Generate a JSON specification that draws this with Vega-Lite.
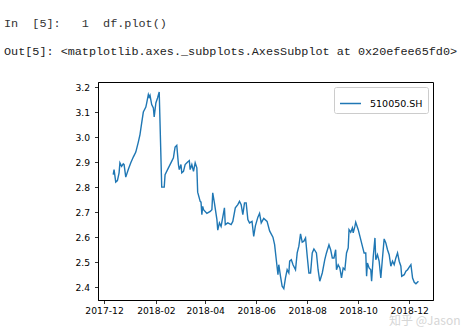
{
  "$schema": "https://vega.github.io/schema/vega-lite/v6.json",
  "autosize": {"type": "none"},
  "width": 335,
  "height": 218,
  "padding": {"left": 98, "top": 82, "right": 42, "bottom": 27},
  "background": "white",
  "title": {
    "text": "In\u00a0\u00a0[5]:\u00a0\u00a0\u00a01\u00a0\u00a0df.plot()",
    "subtitle": "Out[5]:\u00a0<matplotlib.axes._subplots.AxesSubplot at 0x20efee65fd0>",
    "anchor": "start",
    "frame": "group",
    "dx": -94,
    "offset": 24,
    "font": "Liberation Mono",
    "fontSize": 11.8,
    "fontWeight": "normal",
    "color": "#333333",
    "subtitleFont": "Liberation Mono",
    "subtitleFontSize": 11.8,
    "subtitleColor": "#222222",
    "subtitlePadding": 16
  },
  "data": {
    "values": [
      {"date": "2017-12-12", "close": 2.85, "series": "510050.SH"},
      {"date": "2017-12-13", "close": 2.87, "series": "510050.SH"},
      {"date": "2017-12-15", "close": 2.82, "series": "510050.SH"},
      {"date": "2017-12-17", "close": 2.826, "series": "510050.SH"},
      {"date": "2017-12-19", "close": 2.857, "series": "510050.SH"},
      {"date": "2017-12-20", "close": 2.897, "series": "510050.SH"},
      {"date": "2017-12-22", "close": 2.883, "series": "510050.SH"},
      {"date": "2017-12-24", "close": 2.893, "series": "510050.SH"},
      {"date": "2017-12-25", "close": 2.89, "series": "510050.SH"},
      {"date": "2017-12-27", "close": 2.84, "series": "510050.SH"},
      {"date": "2017-12-30", "close": 2.87, "series": "510050.SH"},
      {"date": "2018-01-02", "close": 2.897, "series": "510050.SH"},
      {"date": "2018-01-05", "close": 2.92, "series": "510050.SH"},
      {"date": "2018-01-08", "close": 2.94, "series": "510050.SH"},
      {"date": "2018-01-11", "close": 2.98, "series": "510050.SH"},
      {"date": "2018-01-13", "close": 3.01, "series": "510050.SH"},
      {"date": "2018-01-15", "close": 3.056, "series": "510050.SH"},
      {"date": "2018-01-17", "close": 3.10, "series": "510050.SH"},
      {"date": "2018-01-20", "close": 3.12, "series": "510050.SH"},
      {"date": "2018-01-21", "close": 3.136, "series": "510050.SH"},
      {"date": "2018-01-23", "close": 3.17, "series": "510050.SH"},
      {"date": "2018-01-24", "close": 3.16, "series": "510050.SH"},
      {"date": "2018-01-25", "close": 3.167, "series": "510050.SH"},
      {"date": "2018-01-27", "close": 3.13, "series": "510050.SH"},
      {"date": "2018-01-29", "close": 3.116, "series": "510050.SH"},
      {"date": "2018-01-30", "close": 3.08, "series": "510050.SH"},
      {"date": "2018-02-01", "close": 3.136, "series": "510050.SH"},
      {"date": "2018-02-03", "close": 3.156, "series": "510050.SH"},
      {"date": "2018-02-05", "close": 3.18, "series": "510050.SH"},
      {"date": "2018-02-08", "close": 2.80, "series": "510050.SH"},
      {"date": "2018-02-11", "close": 2.80, "series": "510050.SH"},
      {"date": "2018-02-12", "close": 2.85, "series": "510050.SH"},
      {"date": "2018-02-16", "close": 2.877, "series": "510050.SH"},
      {"date": "2018-02-19", "close": 2.897, "series": "510050.SH"},
      {"date": "2018-02-22", "close": 2.917, "series": "510050.SH"},
      {"date": "2018-02-23", "close": 2.94, "series": "510050.SH"},
      {"date": "2018-02-24", "close": 2.96, "series": "510050.SH"},
      {"date": "2018-02-26", "close": 2.967, "series": "510050.SH"},
      {"date": "2018-02-28", "close": 2.89, "series": "510050.SH"},
      {"date": "2018-03-01", "close": 2.87, "series": "510050.SH"},
      {"date": "2018-03-03", "close": 2.89, "series": "510050.SH"},
      {"date": "2018-03-04", "close": 2.857, "series": "510050.SH"},
      {"date": "2018-03-06", "close": 2.863, "series": "510050.SH"},
      {"date": "2018-03-08", "close": 2.89, "series": "510050.SH"},
      {"date": "2018-03-11", "close": 2.90, "series": "510050.SH"},
      {"date": "2018-03-13", "close": 2.906, "series": "510050.SH"},
      {"date": "2018-03-14", "close": 2.87, "series": "510050.SH"},
      {"date": "2018-03-16", "close": 2.89, "series": "510050.SH"},
      {"date": "2018-03-18", "close": 2.863, "series": "510050.SH"},
      {"date": "2018-03-20", "close": 2.897, "series": "510050.SH"},
      {"date": "2018-03-22", "close": 2.877, "series": "510050.SH"},
      {"date": "2018-03-23", "close": 2.78, "series": "510050.SH"},
      {"date": "2018-03-26", "close": 2.743, "series": "510050.SH"},
      {"date": "2018-03-27", "close": 2.74, "series": "510050.SH"},
      {"date": "2018-03-28", "close": 2.69, "series": "510050.SH"},
      {"date": "2018-03-29", "close": 2.723, "series": "510050.SH"},
      {"date": "2018-03-30", "close": 2.71, "series": "510050.SH"},
      {"date": "2018-04-03", "close": 2.695, "series": "510050.SH"},
      {"date": "2018-04-07", "close": 2.703, "series": "510050.SH"},
      {"date": "2018-04-09", "close": 2.71, "series": "510050.SH"},
      {"date": "2018-04-10", "close": 2.777, "series": "510050.SH"},
      {"date": "2018-04-12", "close": 2.737, "series": "510050.SH"},
      {"date": "2018-04-15", "close": 2.67, "series": "510050.SH"},
      {"date": "2018-04-16", "close": 2.628, "series": "510050.SH"},
      {"date": "2018-04-18", "close": 2.657, "series": "510050.SH"},
      {"date": "2018-04-20", "close": 2.643, "series": "510050.SH"},
      {"date": "2018-04-24", "close": 2.717, "series": "510050.SH"},
      {"date": "2018-04-25", "close": 2.65, "series": "510050.SH"},
      {"date": "2018-04-28", "close": 2.657, "series": "510050.SH"},
      {"date": "2018-05-02", "close": 2.65, "series": "510050.SH"},
      {"date": "2018-05-04", "close": 2.663, "series": "510050.SH"},
      {"date": "2018-05-07", "close": 2.717, "series": "510050.SH"},
      {"date": "2018-05-10", "close": 2.73, "series": "510050.SH"},
      {"date": "2018-05-12", "close": 2.743, "series": "510050.SH"},
      {"date": "2018-05-14", "close": 2.73, "series": "510050.SH"},
      {"date": "2018-05-16", "close": 2.69, "series": "510050.SH"},
      {"date": "2018-05-18", "close": 2.737, "series": "510050.SH"},
      {"date": "2018-05-20", "close": 2.737, "series": "510050.SH"},
      {"date": "2018-05-22", "close": 2.67, "series": "510050.SH"},
      {"date": "2018-05-24", "close": 2.657, "series": "510050.SH"},
      {"date": "2018-05-27", "close": 2.663, "series": "510050.SH"},
      {"date": "2018-05-29", "close": 2.603, "series": "510050.SH"},
      {"date": "2018-05-31", "close": 2.645, "series": "510050.SH"},
      {"date": "2018-06-03", "close": 2.68, "series": "510050.SH"},
      {"date": "2018-06-05", "close": 2.695, "series": "510050.SH"},
      {"date": "2018-06-07", "close": 2.657, "series": "510050.SH"},
      {"date": "2018-06-10", "close": 2.675, "series": "510050.SH"},
      {"date": "2018-06-14", "close": 2.663, "series": "510050.SH"},
      {"date": "2018-06-17", "close": 2.625, "series": "510050.SH"},
      {"date": "2018-06-21", "close": 2.60, "series": "510050.SH"},
      {"date": "2018-06-23", "close": 2.57, "series": "510050.SH"},
      {"date": "2018-06-25", "close": 2.51, "series": "510050.SH"},
      {"date": "2018-06-27", "close": 2.45, "series": "510050.SH"},
      {"date": "2018-06-28", "close": 2.49, "series": "510050.SH"},
      {"date": "2018-06-30", "close": 2.444, "series": "510050.SH"},
      {"date": "2018-07-02", "close": 2.404, "series": "510050.SH"},
      {"date": "2018-07-04", "close": 2.394, "series": "510050.SH"},
      {"date": "2018-07-06", "close": 2.437, "series": "510050.SH"},
      {"date": "2018-07-08", "close": 2.47, "series": "510050.SH"},
      {"date": "2018-07-10", "close": 2.457, "series": "510050.SH"},
      {"date": "2018-07-11", "close": 2.504, "series": "510050.SH"},
      {"date": "2018-07-13", "close": 2.51, "series": "510050.SH"},
      {"date": "2018-07-15", "close": 2.49, "series": "510050.SH"},
      {"date": "2018-07-18", "close": 2.47, "series": "510050.SH"},
      {"date": "2018-07-20", "close": 2.537, "series": "510050.SH"},
      {"date": "2018-07-22", "close": 2.564, "series": "510050.SH"},
      {"date": "2018-07-24", "close": 2.613, "series": "510050.SH"},
      {"date": "2018-07-26", "close": 2.58, "series": "510050.SH"},
      {"date": "2018-07-28", "close": 2.584, "series": "510050.SH"},
      {"date": "2018-07-30", "close": 2.597, "series": "510050.SH"},
      {"date": "2018-08-01", "close": 2.524, "series": "510050.SH"},
      {"date": "2018-08-03", "close": 2.457, "series": "510050.SH"},
      {"date": "2018-08-05", "close": 2.457, "series": "510050.SH"},
      {"date": "2018-08-07", "close": 2.537, "series": "510050.SH"},
      {"date": "2018-08-09", "close": 2.553, "series": "510050.SH"},
      {"date": "2018-08-12", "close": 2.537, "series": "510050.SH"},
      {"date": "2018-08-14", "close": 2.47, "series": "510050.SH"},
      {"date": "2018-08-16", "close": 2.424, "series": "510050.SH"},
      {"date": "2018-08-19", "close": 2.457, "series": "510050.SH"},
      {"date": "2018-08-22", "close": 2.51, "series": "510050.SH"},
      {"date": "2018-08-24", "close": 2.537, "series": "510050.SH"},
      {"date": "2018-08-27", "close": 2.57, "series": "510050.SH"},
      {"date": "2018-08-29", "close": 2.55, "series": "510050.SH"},
      {"date": "2018-08-31", "close": 2.517, "series": "510050.SH"},
      {"date": "2018-09-02", "close": 2.517, "series": "510050.SH"},
      {"date": "2018-09-04", "close": 2.55, "series": "510050.SH"},
      {"date": "2018-09-05", "close": 2.47, "series": "510050.SH"},
      {"date": "2018-09-07", "close": 2.49, "series": "510050.SH"},
      {"date": "2018-09-09", "close": 2.477, "series": "510050.SH"},
      {"date": "2018-09-11", "close": 2.437, "series": "510050.SH"},
      {"date": "2018-09-13", "close": 2.477, "series": "510050.SH"},
      {"date": "2018-09-15", "close": 2.47, "series": "510050.SH"},
      {"date": "2018-09-17", "close": 2.537, "series": "510050.SH"},
      {"date": "2018-09-19", "close": 2.557, "series": "510050.SH"},
      {"date": "2018-09-20", "close": 2.63, "series": "510050.SH"},
      {"date": "2018-09-22", "close": 2.62, "series": "510050.SH"},
      {"date": "2018-09-24", "close": 2.637, "series": "510050.SH"},
      {"date": "2018-09-25", "close": 2.617, "series": "510050.SH"},
      {"date": "2018-09-27", "close": 2.643, "series": "510050.SH"},
      {"date": "2018-09-28", "close": 2.66, "series": "510050.SH"},
      {"date": "2018-10-01", "close": 2.63, "series": "510050.SH"},
      {"date": "2018-10-04", "close": 2.59, "series": "510050.SH"},
      {"date": "2018-10-07", "close": 2.55, "series": "510050.SH"},
      {"date": "2018-10-08", "close": 2.537, "series": "510050.SH"},
      {"date": "2018-10-10", "close": 2.537, "series": "510050.SH"},
      {"date": "2018-10-11", "close": 2.444, "series": "510050.SH"},
      {"date": "2018-10-12", "close": 2.497, "series": "510050.SH"},
      {"date": "2018-10-14", "close": 2.477, "series": "510050.SH"},
      {"date": "2018-10-16", "close": 2.47, "series": "510050.SH"},
      {"date": "2018-10-17", "close": 2.424, "series": "510050.SH"},
      {"date": "2018-10-19", "close": 2.524, "series": "510050.SH"},
      {"date": "2018-10-21", "close": 2.597, "series": "510050.SH"},
      {"date": "2018-10-22", "close": 2.51, "series": "510050.SH"},
      {"date": "2018-10-24", "close": 2.53, "series": "510050.SH"},
      {"date": "2018-10-26", "close": 2.504, "series": "510050.SH"},
      {"date": "2018-10-28", "close": 2.437, "series": "510050.SH"},
      {"date": "2018-10-30", "close": 2.517, "series": "510050.SH"},
      {"date": "2018-11-01", "close": 2.593, "series": "510050.SH"},
      {"date": "2018-11-03", "close": 2.577, "series": "510050.SH"},
      {"date": "2018-11-05", "close": 2.55, "series": "510050.SH"},
      {"date": "2018-11-07", "close": 2.53, "series": "510050.SH"},
      {"date": "2018-11-09", "close": 2.484, "series": "510050.SH"},
      {"date": "2018-11-11", "close": 2.504, "series": "510050.SH"},
      {"date": "2018-11-13", "close": 2.49, "series": "510050.SH"},
      {"date": "2018-11-15", "close": 2.517, "series": "510050.SH"},
      {"date": "2018-11-17", "close": 2.537, "series": "510050.SH"},
      {"date": "2018-11-19", "close": 2.504, "series": "510050.SH"},
      {"date": "2018-11-21", "close": 2.484, "series": "510050.SH"},
      {"date": "2018-11-22", "close": 2.444, "series": "510050.SH"},
      {"date": "2018-11-25", "close": 2.45, "series": "510050.SH"},
      {"date": "2018-11-27", "close": 2.464, "series": "510050.SH"},
      {"date": "2018-11-29", "close": 2.47, "series": "510050.SH"},
      {"date": "2018-12-01", "close": 2.48, "series": "510050.SH"},
      {"date": "2018-12-03", "close": 2.49, "series": "510050.SH"},
      {"date": "2018-12-05", "close": 2.437, "series": "510050.SH"},
      {"date": "2018-12-07", "close": 2.42, "series": "510050.SH"},
      {"date": "2018-12-09", "close": 2.414, "series": "510050.SH"},
      {"date": "2018-12-12", "close": 2.424, "series": "510050.SH"}
    ]
  },
  "mark": {"type": "line", "strokeWidth": 1.4, "clip": true},
  "encoding": {
    "x": {
      "field": "date",
      "type": "temporal",
      "scale": {
        "type": "utc",
        "domain": [
          {"year": 2017, "month": 11, "date": 23, "hours": 19, "utc": true},
          {"year": 2018, "month": 12, "date": 29, "hours": 10, "utc": true}
        ]
      },
      "axis": {
        "values": [
          {"year": 2017, "month": 12, "date": 1, "utc": true},
          {"year": 2018, "month": 2, "date": 1, "utc": true},
          {"year": 2018, "month": 4, "date": 1, "utc": true},
          {"year": 2018, "month": 6, "date": 1, "utc": true},
          {"year": 2018, "month": 8, "date": 1, "utc": true},
          {"year": 2018, "month": 10, "date": 1, "utc": true},
          {"year": 2018, "month": 12, "date": 1, "utc": true}
        ],
        "labelExpr": "utcFormat(datum.value, '%Y-%m')",
        "labelPadding": 3,
        "labelFlush": false,
        "labelOverlap": false,
        "title": "知乎 @Jason",
        "titleFont": "Noto Sans CJK SC",
        "titleFontSize": 12,
        "titleFontWeight": "normal",
        "titleColor": "#d6d6d6",
        "titleAnchor": "end",
        "titleAlign": "right",
        "titleBaseline": "alphabetic",
        "titleX": 362,
        "titleY": 24
      }
    },
    "y": {
      "field": "close",
      "type": "quantitative",
      "scale": {"domain": [2.349, 3.22], "nice": false, "zero": false},
      "axis": {
        "values": [2.4, 2.5, 2.6, 2.7, 2.8, 2.9, 3.0, 3.1, 3.2],
        "format": ".1f",
        "labelPadding": 5,
        "title": null
      }
    },
    "color": {
      "field": "series",
      "type": "nominal",
      "scale": {"range": ["#1f77b4"]},
      "legend": {
        "title": null,
        "orient": "top-right",
        "offset": 5,
        "padding": 5,
        "strokeColor": "#cccccc",
        "fillColor": "white",
        "cornerRadius": 2,
        "symbolType": "stroke",
        "symbolSize": 440,
        "symbolStrokeWidth": 1.5,
        "labelFont": "DejaVu Sans",
        "labelFontSize": 9.5,
        "labelColor": "#000000",
        "labelOffset": 8
      }
    }
  },
  "config": {
    "view": {"stroke": "#000000", "strokeWidth": 1},
    "axis": {
      "grid": false,
      "domain": true,
      "domainColor": "#000000",
      "domainWidth": 1,
      "tickColor": "#000000",
      "tickSize": 3.5,
      "tickWidth": 0.8,
      "labelFont": "DejaVu Sans",
      "labelFontSize": 9.2,
      "labelColor": "#000000"
    }
  }
}
